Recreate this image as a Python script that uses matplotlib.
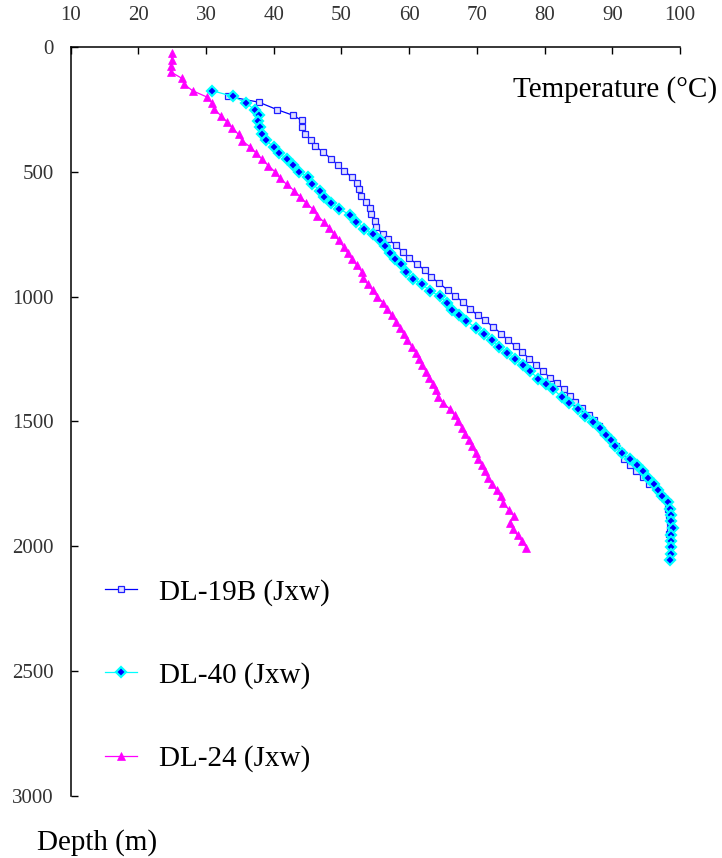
import matplotlib
matplotlib.use("Agg")
import matplotlib.pyplot as plt

plt.rcParams['font.family'] = ['Liberation Serif', 'DejaVu Serif']

# DL-19B (Jxw): depth (m), temperature (C)
dl19b_depth = [198, 221, 251, 274, 294, 321, 347, 374, 398, 420, 447, 473, 497, 520, 546,
               570, 595, 622, 646, 670, 698, 720, 750, 771, 794, 823, 847, 870, 894, 921,
               945, 974, 997, 1021, 1048, 1075, 1095, 1121, 1148, 1175, 1199, 1222, 1248,
               1275, 1298, 1324, 1346, 1369, 1399, 1422, 1445, 1472, 1496, 1518, 1542,
               1576, 1600, 1623, 1652, 1675, 1699, 1723, 1750, 1776, 1800, 1823, 1850,
               1876, 1903, 1930, 1950]
dl19b_temp = [33.3, 37.8, 40.5, 42.9, 44.1, 44.2, 44.6, 45.5, 46.1, 47.3, 48.4, 49.5, 50.4,
              51.5, 52.3, 52.6, 52.9, 53.6, 54.2, 54.4, 55.0, 55.1, 56.1, 56.9, 58.1, 59.1,
              60.0, 61.2, 62.3, 63.2, 64.4, 65.7, 66.8, 67.9, 69.0, 70.1, 71.2, 72.4, 73.6,
              74.6, 75.8, 76.7, 77.7, 78.8, 79.7, 80.8, 81.8, 82.8, 83.7, 84.5, 85.5, 86.5,
              87.3, 88.0, 88.6, 89.8, 90.6, 91.3, 91.8, 92.6, 93.5, 94.5, 95.4, 96.7, 97.4,
              98.2, 98.2, 98.4, 98.5, 98.5, 98.4]

# DL-40 (Jxw)
dl40_depth = [175, 198, 224, 252, 274, 297, 321, 347, 374, 400, 423, 450, 473, 500, 520,
              549, 576, 599, 626, 648, 672, 700, 727, 750, 774, 797, 827, 851, 870, 901,
              928, 950, 977, 998, 1025, 1052, 1075, 1097, 1124, 1148, 1175, 1202, 1224,
              1251, 1275, 1298, 1328, 1349, 1371, 1402, 1426, 1449, 1476, 1501, 1526,
              1553, 1576, 1598, 1625, 1652, 1673, 1699, 1725, 1752, 1776, 1800, 1823,
              1852, 1876, 1900, 1926, 1953, 1977, 2003, 2030, 2054]
dl40_temp = [30.9, 34.0, 35.9, 37.2, 37.8, 37.6, 37.9, 38.3, 38.8, 40.0, 40.8, 41.9, 42.9,
             43.7, 45.1, 45.7, 46.9, 47.4, 48.5, 49.7, 51.2, 52.2, 53.4, 54.7, 55.7, 56.5,
             57.1, 57.9, 58.8, 59.5, 60.6, 61.9, 63.1, 64.5, 65.6, 66.3, 67.3, 68.4, 69.8,
             71.0, 72.2, 73.3, 74.4, 75.7, 76.8, 77.8, 79.1, 80.2, 81.3, 82.5, 83.6, 84.9,
             86.0, 87.2, 88.2, 89.0, 89.8, 90.4, 91.4, 92.6, 93.6, 94.5, 95.3, 96.2, 96.8,
             97.4, 98.3, 98.5, 98.6, 98.7, 98.9, 98.7, 98.7, 98.7, 98.6, 98.5]

# DL-24 (Jxw)
dl24_depth = [25, 50, 75, 100, 125, 150, 175, 200, 225, 250, 275, 300, 325, 350, 375, 400,
              425, 450, 475, 500, 525, 550, 575, 600, 625, 650, 675, 700, 725, 750, 775,
              800, 825, 850, 875, 900, 925, 950, 975, 1000, 1025, 1050, 1075, 1100, 1125,
              1150, 1175, 1200, 1225, 1250, 1275, 1300, 1325, 1350, 1375, 1400, 1425,
              1450, 1475, 1500, 1525, 1550, 1575, 1600, 1625, 1650, 1675, 1700, 1725,
              1750, 1775, 1800, 1825, 1855, 1880, 1905, 1930, 1955, 1980, 2005]
dl24_temp = [24.9, 24.9, 24.8, 24.8, 26.4, 26.8, 28.0, 30.1, 30.9, 31.2, 32.2, 33.1, 33.9,
             34.8, 35.3, 36.5, 37.4, 38.3, 39.2, 40.2, 40.9, 41.9, 43.0, 43.9, 44.8, 45.8,
             46.4, 47.4, 48.2, 48.9, 49.6, 50.3, 50.9, 51.6, 52.3, 53.0, 53.2, 53.9, 54.6,
             55.3, 56.2, 56.7, 57.4, 58.1, 58.7, 59.2, 59.7, 60.4, 61.0, 61.5, 61.9, 62.5,
             63.0, 63.5, 63.9, 64.3, 65.0, 66.0, 66.7, 67.2, 67.8, 68.3, 68.9, 69.3, 69.8,
             70.2, 70.8, 71.2, 71.6, 72.3, 72.9, 73.5, 73.8, 74.8, 75.5, 74.9, 75.3, 76.0,
             76.7, 77.3]

x_ticks = [10, 20, 30, 40, 50, 60, 70, 80, 90, 100]
y_ticks = [0, 500, 1000, 1500, 2000, 2500, 3000]

fig = plt.figure(figsize=(7.22, 8.58), dpi=100)
ax = fig.add_axes([0.0979, 0.0723, 0.8439, 0.8729])

ax.plot(dl19b_temp, dl19b_depth, color='#0000ff', lw=0.9, marker='s', ms=4,
        mfc='#e0e0ff', mec='#2020ff', mew=0.9, label='DL-19B (Jxw)', zorder=3)
ax.plot(dl40_temp, dl40_depth, color='#00ffff', lw=0.9, marker='D', ms=5,
        mfc='#0000ff', mec='#00ffff', mew=1.6, label='DL-40 (Jxw)', zorder=4)
ax.plot(dl24_temp, dl24_depth, color='#ff00ff', lw=0.9, marker='^', ms=6,
        mfc='#ff00ff', mec='#ff00ff', mew=0.5, label='DL-24 (Jxw)', zorder=5)

ax.set_xlim(10, 100)
ax.set_ylim(3000, 0)
ax.set_xticks(x_ticks)
ax.set_yticks(y_ticks)
ax.xaxis.tick_top()
ax.spines['right'].set_visible(False)
ax.spines['bottom'].set_visible(False)
ax.spines['left'].set_linewidth(1.1)
ax.spines['top'].set_linewidth(1.1)
ax.tick_params(axis='x', direction='in', length=5, width=1, pad=16, labelsize=15)
ax.tick_params(axis='y', direction='in', length=5, width=1, pad=12, labelsize=15)
for lab in ax.get_xticklabels() + ax.get_yticklabels():
    lab.set_color('#333333')

leg = ax.legend(loc='upper left', bbox_to_anchor=(0.145, 0.3255),
                bbox_transform=fig.transFigure, frameon=False, fontsize=21,
                handlelength=1.1, handletextpad=0.75, labelspacing=1.93,
                borderpad=0, borderaxespad=0)

fig.text(0.993, 1 - 90 / 858, 'Temperature (°C)', ha='right', va='center', fontsize=21)
fig.text(37 / 722, 1 - 843 / 858, 'Depth (m)', ha='left', va='center', fontsize=21)

fig.savefig('out.png', dpi=100)
